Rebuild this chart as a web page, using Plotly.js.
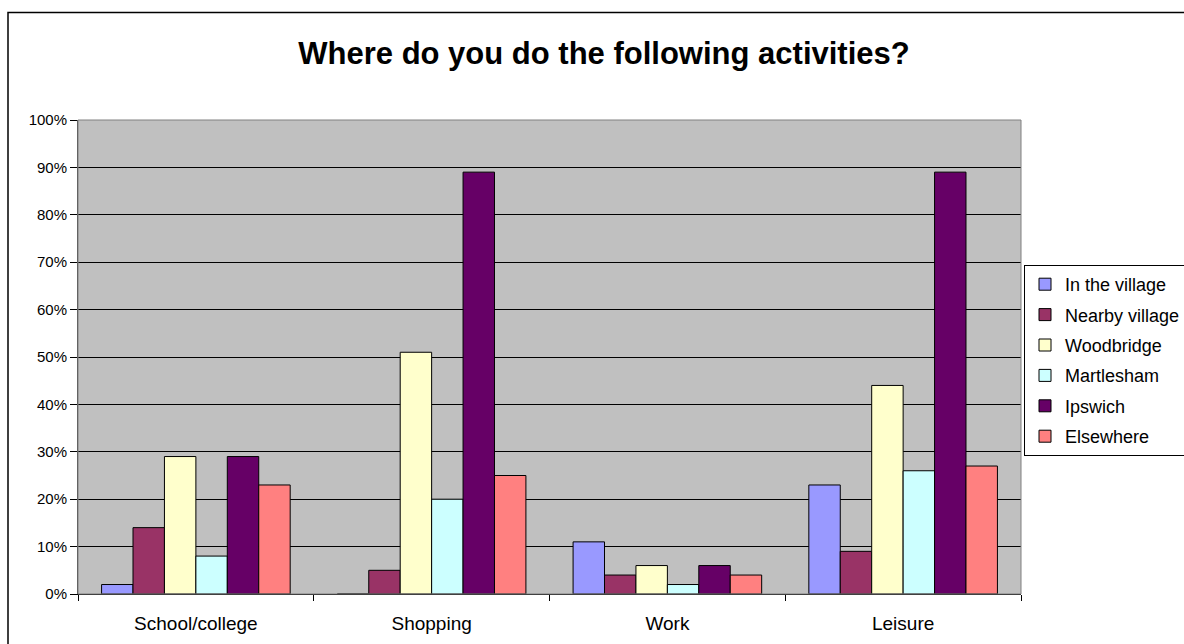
<!DOCTYPE html>
<html>
<head>
<meta charset="utf-8">
<script src="https://cdn.plot.ly/plotly-3.0.1.min.js"></script>
<style>
html,body{margin:0;padding:0;background:#fff;overflow:hidden;width:1184px;height:644px;}
#chart{width:1300px;height:644px;}
</style>
</head>
<body>
<div id="chart"></div>
<script>
const categories = ["School/college", "Shopping", "Work", "Leisure"];
const seriesNames = ["In the village", "Nearby village", "Woodbridge", "Martlesham", "Ipswich", "Elsewhere"];
const inTheVillage = [2, 0, 11, 23];
const nearbyVillage = [14, 5, 4, 9];
const woodbridge = [29, 51, 6, 44];
const martlesham = [8, 20, 2, 26];
const ipswich = [29, 89, 6, 89];
const elsewhere = [23, 25, 4, 27];
const colors = ["#9999FF", "#993366", "#FFFFCC", "#CCFFFF", "#660066", "#FF8080"];
const yTickVals = [0,10,20,30,40,50,60,70,80,90,100];
const yTickText = ["0%","10%","20%","30%","40%","50%","60%","70%","80%","90%","100%"];

const seriesValues = [inTheVillage, nearbyVillage, woodbridge, martlesham, ipswich, elsewhere];
const traces = seriesNames.map((name, i) => ({
  type: "bar",
  name: name,
  legendgroup: "g" + i,
  x: categories,
  y: seriesValues[i],
  marker: {color: colors[i], line: {color: "#000", width: 1}},
  hoverinfo: "x+y+name"
}));

const L = 78, R = 1021, T = 120, B = 594, W = 1300, H = 644;
const pw = R - L, ph = B - T;
const px = v => (v - L) / pw;
const py = v => (B - v) / ph;
const FONT = "Liberation Sans, Arial, sans-serif";

const layout = {
  width: W, height: H,
  margin: {l: L, r: W - R, t: T, b: H - B, pad: 0},
  paper_bgcolor: "#fff",
  plot_bgcolor: "#C0C0C0",
  font: {family: FONT, color: "#000"},
  title: {
    text: "<b>Where do you do the following activities?</b>",
    font: {size: 31, family: FONT, color: "#000"},
    x: 604 / W, xanchor: "center", y: 1 - 53 / H, yanchor: "middle"
  },
  barmode: "group",
  bargap: 0.2,
  bargroupgap: 0,
  showlegend: true,
  legend: {
    x: px(1024), xanchor: "left", y: py(265), yanchor: "top",
    bgcolor: "#fff", bordercolor: "#000", borderwidth: 1,
    font: {size: 18, family: FONT},
    tracegroupgap: 4, itemwidth: 30
  },
  xaxis: {
    type: "category",
    tickson: "boundaries",
    ticks: "outside", ticklen: 6, tickcolor: "#000", tickwidth: 1,
    showline: true, linecolor: "#000", linewidth: 1,
    showgrid: false, zeroline: false,
    tickfont: {size: 19},
    ticklabelstandoff: 12,
    fixedrange: true
  },
  yaxis: {
    range: [0, 100],
    tickvals: yTickVals, ticktext: yTickText,
    ticks: "outside", ticklen: 7, tickcolor: "#000", tickwidth: 1,
    showline: true, linecolor: "#444", linewidth: 1,
    showgrid: true, gridcolor: "#000", gridwidth: 1,
    zeroline: false,
    tickfont: {size: 15},
    fixedrange: true
  },
  shapes: [
    {type: "rect", xref: "paper", yref: "paper", x0: 0, x1: 1, y0: 0, y1: 1,
     line: {color: "#808080", width: 1}, fillcolor: "rgba(0,0,0,0)", layer: "above"},
    {type: "rect", xref: "paper", yref: "paper", x0: px(8), x1: px(1290), y0: py(700), y1: py(12.5),
     line: {color: "#000", width: 1.5}, fillcolor: "rgba(0,0,0,0)", layer: "above"}
  ]
};

Plotly.newPlot("chart", traces, layout, {displayModeBar: false, staticPlot: true});
</script>
</body>
</html>
